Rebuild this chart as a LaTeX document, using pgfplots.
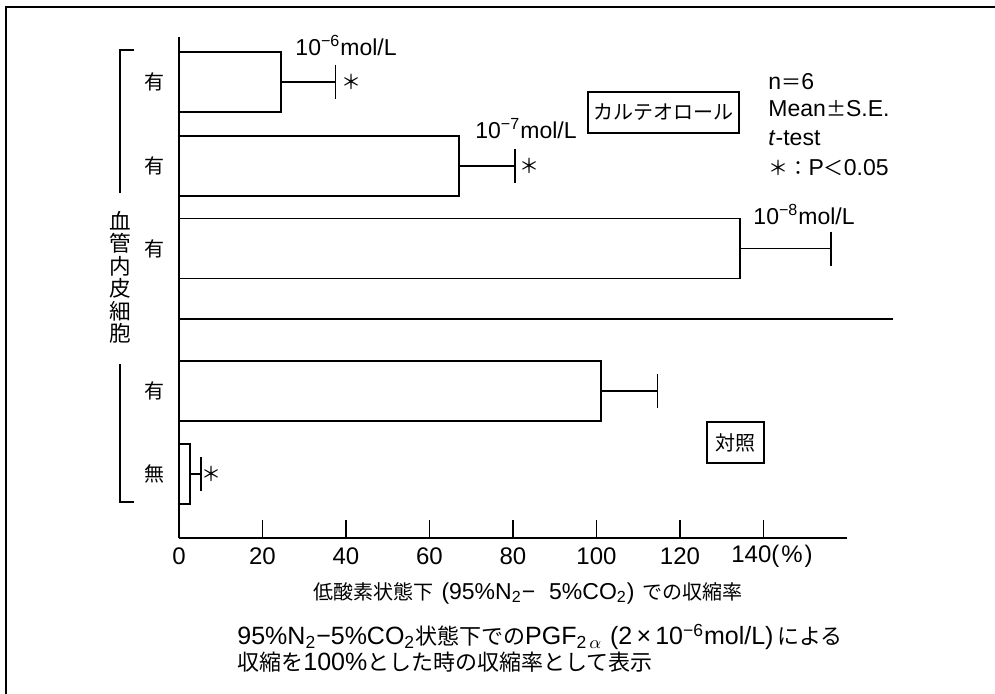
\documentclass[border=0pt]{standalone}
\usepackage{fontspec}
\setmainfont{Liberation Sans}
\newfontfamily\jp[Scale=0.87]{Noto Sans CJK JP}
\newfontfamily\jpu{Noto Sans CJK JP}
\newcommand{\J}[1]{{\jpu\fontsize{11}{13}\selectfont #1}}
\usepackage{pgfplots}
\pgfplotsset{compat=1.18}
\begin{document}
\fontsize{11.5}{13.8}\selectfont
\begin{tikzpicture}
\begin{axis}[
  scale only axis, width=334pt, height=250.5pt,
  xmin=0, xmax=160, ymin=0, ymax=501,
  axis lines=left, axis line style={-, line width=0.9pt, black},
  clip=false,
  xtick={0,20,40,60,80,100,120,140},
  xticklabels={0,20,40,60,80,100,120,\makebox[0pt]{\hspace*{8.5pt}140(\kern1pt\%\kern1pt)}},
  tick align=inside, major tick length=9pt,
  xtick style={line width=0.9pt, black},
  ytick={64,147.2,289.5,372,456.3},
  yticklabels={無,有,有,有,有},
  ytick style={draw=none},
  /pgf/number format/assume math mode=true,
  xticklabel style={font=\fontsize{12}{14}\selectfont, anchor=center, yshift=-9pt},
  yticklabel style={font=\jp\fontsize{11.5}{13.8}\selectfont, anchor=center, xshift=-12pt},
]
\addplot[xbar, bar width=60, draw=black, fill=white, line width=0.9pt,
  error bars/.cd, x dir=plus, x explicit,
  error mark=|,
  error bar style={line width=0.9pt, black},
  error mark options={black, mark size=8.5pt, line width=0.9pt}]
coordinates {(24.4,456.3) +- (13.1,0) (67.1,372) +- (13.4,0) (134.4,289.5) +- (21.8,0) (101.0,147.2) +- (13.6,0) (2.6,64) +- (2.6,0)};
\addplot[black, line width=0.9pt, no marks, forget plot] coordinates {(0,218.7) (171,218.7)};

% bracket and group label
\draw[line width=0.8pt] (axis cs:-10.78,488) -- (axis cs:-14.13,488) -- (axis cs:-14.13,345.3);
\draw[line width=0.8pt] (axis cs:-14.13,174) -- (axis cs:-14.13,36.3) -- (axis cs:-10.78,36.3);
\node[font=\jpu\fontsize{10.8}{11.25}\selectfont, align=center, inner sep=0] at (axis cs:-14.13,260.5) {血\\管\\内\\皮\\細\\胞};

% concentration labels
\node[anchor=base west, inner sep=0] at (axis cs:27.8,483) {10\textsuperscript{\char"2212 6}mol/L};
\node[anchor=base west, inner sep=0] at (axis cs:70.9,400) {10\textsuperscript{\char"2212 7}mol/L};
\node[anchor=base west, inner sep=0] at (axis cs:137.5,314) {10\textsuperscript{\char"2212 8}mol/L};

% asterisks
\node[anchor=west, inner sep=0, font=\jp] at (axis cs:38.8,456.3) {＊};
\node[anchor=west, inner sep=0, font=\jp] at (axis cs:81.4,372) {＊};
\node[anchor=west, inner sep=0, font=\jp] at (axis cs:5.3,64) {＊};

% boxes
\node[draw, line width=0.75pt, minimum width=75.5pt, minimum height=20.5pt, inner sep=1pt, font=\jp] at (axis cs:116,425.5) {カルテオロール};
\node[draw, line width=0.75pt, minimum width=28.5pt, minimum height=20.5pt, inner sep=1pt, font=\jp] at (axis cs:133.3,95.5) {対照};

% stats text
\node[anchor=base west, inner sep=0] at (axis cs:141.1,448.7) {n{\jp ＝}6};
\node[anchor=base west, inner sep=0] at (axis cs:141.1,421.3) {Mean{\jp ±}S.E.};
\node[anchor=base west, inner sep=0] at (axis cs:141.1,393) {\textit{t}-test};
\node[anchor=base west, inner sep=0] at (axis cs:141.1,363) {{\jp ＊：}P{\jp ＜}0.05};

% axis label and notes
\node[inner sep=0] at (axis cs:83.6,-55) {{\jp 低酸素状態下}\kern4pt(95\%N\textsubscript{2}\char"2212\kern7pt 5\%CO\textsubscript{2})\kern4pt{\jp での収縮率}};
\node[anchor=west, inner sep=0, font=\fontsize{12.5}{14}\selectfont] at (axis cs:13.9,-99) {95\%N\textsubscript{2}\char"2212 5\%CO\textsubscript{2}\J{状態下での}PGF\textsubscript{2\,$\alpha$}\kern4pt(2\,×\,10\textsuperscript{\char"2212 6}mol/L)\kern2pt\J{による}};
\node[anchor=west, inner sep=0, font=\fontsize{12.5}{14}\selectfont] at (axis cs:13.9,-124) {\J{収縮を}100\%\J{とした時の収縮率として表示}};

% frame
\draw[line width=1pt] (axis cs:-41.32,-160) -- (axis cs:-41.32,531.5) -- (axis cs:200,531.5);
\coordinate (tl) at (axis cs:-42.874,538);
\coordinate (br) at (axis cs:195.45,-155);
\end{axis}
\pgfresetboundingbox
\path[use as bounding box] (tl) rectangle (br);
\end{tikzpicture}
\end{document}
